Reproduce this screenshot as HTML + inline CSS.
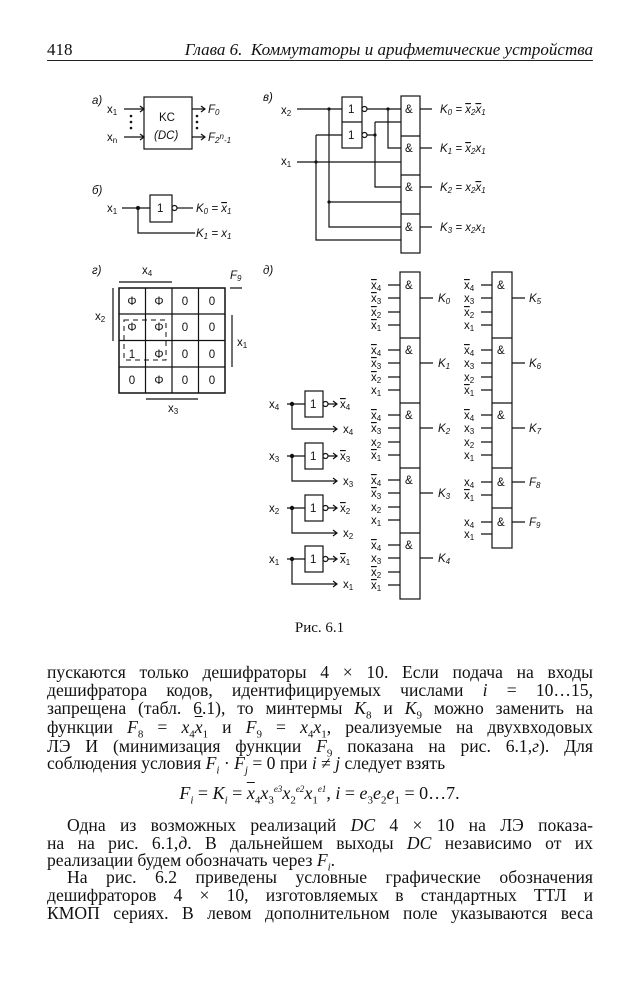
<!DOCTYPE html>
<html><head><meta charset="utf-8">
<style>
body{margin:0;background:#fff;}
#p{position:relative;width:639px;height:1000px;overflow:hidden;background:#fff;font-family:"Liberation Serif",serif;color:#111;}
.l{position:absolute;left:47px;width:546px;height:18px;line-height:18px;font-size:17.6px;text-align:justify;text-align-last:justify;white-space:nowrap;}
.n{text-align-last:left;}
.i{font-style:italic;}
sub,sup{line-height:0;font-size:11px;}
svg{position:absolute;left:0;top:0;}
svg text{font-family:"Liberation Sans",sans-serif;font-size:11.5px;fill:#111;}
.o{text-decoration:overline;}
.s{font-size:8px;}
</style></head><body><div id="p">
<div style="position:absolute;left:47px;top:40px;font-size:17px;">418</div>
<div style="position:absolute;right:46px;top:40px;font-size:17px;font-style:italic;">Глава 6.&nbsp; Коммутаторы и арифметические устройства</div>
<div style="position:absolute;left:47px;top:60px;width:546px;height:1px;background:#222;"></div>

<svg width="639" height="640" viewBox="0 0 639 640" stroke="#111" stroke-width="1.2" fill="none">
<!-- a) -->
<text x="92" y="104" stroke="none" font-style="italic">a)</text>
<rect x="144" y="97" width="48" height="52"/>
<text x="159" y="121" stroke="none" font-size="12">KC</text>
<text x="154" y="139" stroke="none" font-style="italic">(DC)</text>
<path d="M124 109H144M124 137H144M192 109H205M192 137H205"/>
<path d="M140 106l4 3-4 3M140 134l4 3-4 3M201 106l4 3-4 3M201 134l4 3-4 3"/>
<g fill="#111" stroke="none"><circle cx="131" cy="116" r="1.3"/><circle cx="131" cy="122" r="1.3"/><circle cx="131" cy="128" r="1.3"/><circle cx="197" cy="116" r="1.3"/><circle cx="197" cy="122" r="1.3"/><circle cx="197" cy="128" r="1.3"/></g>
<text x="107" y="113" stroke="none">x<tspan class="s" dy="2">1</tspan></text>
<text x="107" y="141" stroke="none">x<tspan class="s" dy="2">n</tspan></text>
<text x="208" y="113" stroke="none" font-style="italic">F<tspan class="s" dy="2">0</tspan></text>
<text x="208" y="141" stroke="none" font-style="italic">F<tspan class="s" dy="2">2</tspan><tspan class="s" dy="-4">n</tspan><tspan class="s" dy="4">-1</tspan></text>
<!-- b) -->
<text x="92" y="194" stroke="none" font-style="italic">б)</text>
<text x="107" y="212" stroke="none">x<tspan class="s" dy="2">1</tspan></text>
<path d="M122 208H150M138 208V233H195"/>
<circle cx="138" cy="208" r="1.5" fill="#111"/>
<rect x="150" y="195" width="22" height="27"/>
<text x="157" y="212" stroke="none">1</text>
<circle cx="174.5" cy="208" r="2.5" fill="#fff"/>
<path d="M177 208H193"/>
<text x="196" y="212" stroke="none" font-style="italic">K<tspan class="s" dy="2">0</tspan><tspan dy="-2"> = </tspan><tspan class="o">x</tspan><tspan class="s" dy="2">1</tspan></text>
<text x="196" y="237" stroke="none" font-style="italic">K<tspan class="s" dy="2">1</tspan><tspan dy="-2"> = x</tspan><tspan class="s" dy="2">1</tspan></text>
<!-- v) -->
<text x="263" y="101" stroke="none" font-style="italic">в)</text>
<text x="281" y="114" stroke="none">x<tspan class="s" dy="2">2</tspan></text>
<text x="281" y="165" stroke="none">x<tspan class="s" dy="2">1</tspan></text>
<rect x="342" y="97" width="20" height="51"/><path d="M342 122H362"/>
<text x="348" y="113" stroke="none">1</text><text x="348" y="139" stroke="none">1</text>
<circle cx="364.5" cy="109" r="2.5" fill="#fff"/><circle cx="364.5" cy="135" r="2.5" fill="#fff"/>
<rect x="401" y="96" width="19" height="157"/>
<path d="M401 136H420M401 175H420M401 214H420"/>
<path d="M297 109H342M367 109H401M388 109V148H401M367 135H375M375 122H401M375 122V187H401"/>
<path d="M297 162H401M316 135H342M316 135V240H401M329 109V227H401M329 202H401"/>
<g fill="#111" stroke="none"><circle cx="329" cy="109" r="1.6"/><circle cx="388" cy="109" r="1.6"/><circle cx="375" cy="135" r="1.6"/><circle cx="316" cy="162" r="1.6"/><circle cx="329" cy="202" r="1.6"/></g>
<g stroke="none" font-size="12"><text x="405" y="113">&amp;</text><text x="405" y="152">&amp;</text><text x="405" y="191">&amp;</text><text x="405" y="231">&amp;</text></g>
<path d="M420 109H432M420 148H432M420 187H432M420 227H432"/>
<g stroke="none" font-style="italic">
<text x="440" y="113">K<tspan class="s" dy="2">0</tspan><tspan dy="-2"> = </tspan><tspan class="o">x</tspan><tspan class="s" dy="2">2</tspan><tspan class="o" dy="-2">x</tspan><tspan class="s" dy="2">1</tspan></text>
<text x="440" y="152">K<tspan class="s" dy="2">1</tspan><tspan dy="-2"> = </tspan><tspan class="o">x</tspan><tspan class="s" dy="2">2</tspan><tspan dy="-2">x</tspan><tspan class="s" dy="2">1</tspan></text>
<text x="440" y="191">K<tspan class="s" dy="2">2</tspan><tspan dy="-2"> = x</tspan><tspan class="s" dy="2">2</tspan><tspan class="o" dy="-2">x</tspan><tspan class="s" dy="2">1</tspan></text>
<text x="440" y="231">K<tspan class="s" dy="2">3</tspan><tspan dy="-2"> = x</tspan><tspan class="s" dy="2">2</tspan><tspan dy="-2">x</tspan><tspan class="s" dy="2">1</tspan></text>
</g>
<!-- g) -->
<text x="92" y="274" stroke="none" font-style="italic">г)</text>
<rect x="119" y="288" width="106" height="105" stroke-width="1.5"/>
<path d="M145.5 288V393M172 288V393M198.5 288V393M119 314H225M119 340.5H225M119 367H225"/>
<g stroke="none" text-anchor="middle">
<text x="132" y="305">Φ</text><text x="159" y="305">Φ</text><text x="185" y="305">0</text><text x="212" y="305">0</text>
<text x="132" y="331">Φ</text><text x="159" y="331">Φ</text><text x="185" y="331">0</text><text x="212" y="331">0</text>
<text x="132" y="358">1</text><text x="159" y="358">Φ</text><text x="185" y="358">0</text><text x="212" y="358">0</text>
<text x="132" y="384">0</text><text x="159" y="384">Φ</text><text x="185" y="384">0</text><text x="212" y="384">0</text>
</g>
<rect x="124" y="320" width="42" height="40" stroke-dasharray="5 4" stroke-width="1"/>
<path d="M119 282H172M113 288V341M232 315V367M146 399H198M230 288H242"/>
<g stroke="none"><text x="142" y="274">x<tspan class="s" dy="2">4</tspan></text>
<text x="95" y="320">x<tspan class="s" dy="2">2</tspan></text>
<text x="237" y="346">x<tspan class="s" dy="2">1</tspan></text>
<text x="168" y="412">x<tspan class="s" dy="2">3</tspan></text>
<text x="230" y="279" font-style="italic">F<tspan class="s" dy="2">9</tspan></text></g>
<!-- d) -->
<text x="263" y="274" stroke="none" font-style="italic">д)</text>
<g id="inv">
<path d="M287 404H305M292 404V429H337M327 404H337M333 401l4 3-4 3M333 426l4 3-4 3"/>
<circle cx="292" cy="404" r="1.6" fill="#111"/>
<rect x="305" y="391" width="18" height="26"/>
<text x="310" y="408" stroke="none">1</text>
<circle cx="325.5" cy="404" r="2.5" fill="#fff"/>
</g>
<use href="#inv" y="52"/><use href="#inv" y="104"/><use href="#inv" y="155"/>
<g stroke="none">
<text x="269" y="408">x<tspan class="s" dy="2">4</tspan></text><text x="340" y="408"><tspan class="o">x</tspan><tspan class="s" dy="2">4</tspan></text><text x="343" y="433">x<tspan class="s" dy="2">4</tspan></text>
<text x="269" y="460">x<tspan class="s" dy="2">3</tspan></text><text x="340" y="460"><tspan class="o">x</tspan><tspan class="s" dy="2">3</tspan></text><text x="343" y="485">x<tspan class="s" dy="2">3</tspan></text>
<text x="269" y="512">x<tspan class="s" dy="2">2</tspan></text><text x="340" y="512"><tspan class="o">x</tspan><tspan class="s" dy="2">2</tspan></text><text x="343" y="537">x<tspan class="s" dy="2">2</tspan></text>
<text x="269" y="563">x<tspan class="s" dy="2">1</tspan></text><text x="340" y="563"><tspan class="o">x</tspan><tspan class="s" dy="2">1</tspan></text><text x="343" y="588">x<tspan class="s" dy="2">1</tspan></text>
</g>
<!-- column 1 -->
<rect x="400" y="272" width="20" height="327"/>
<path d="M400 338H420M400 403H420M400 468H420M400 533H420"/>
<path d="M388 285H400M388 298H400M388 312H400M388 325H400 M388 350H400M388 363H400M388 377H400M388 390H400 M388 415H400M388 428H400M388 442H400M388 455H400 M388 480H400M388 493H400M388 507H400M388 520H400 M388 545H400M388 558H400M388 572H400M388 585H400"/>
<path d="M420 298H433M420 363H433M420 428H433M420 493H433M420 558H433"/>
<g stroke="none" font-size="12"><text x="405" y="289">&amp;</text><text x="405" y="354">&amp;</text><text x="405" y="419">&amp;</text><text x="405" y="484">&amp;</text><text x="405" y="549">&amp;</text></g>
<g stroke="none">
<text x="371" y="289"><tspan class="o">x</tspan><tspan class="s" dy="2">4</tspan></text><text x="371" y="302"><tspan class="o">x</tspan><tspan class="s" dy="2">3</tspan></text><text x="371" y="316"><tspan class="o">x</tspan><tspan class="s" dy="2">2</tspan></text><text x="371" y="329"><tspan class="o">x</tspan><tspan class="s" dy="2">1</tspan></text>
<text x="371" y="354"><tspan class="o">x</tspan><tspan class="s" dy="2">4</tspan></text><text x="371" y="367"><tspan class="o">x</tspan><tspan class="s" dy="2">3</tspan></text><text x="371" y="381"><tspan class="o">x</tspan><tspan class="s" dy="2">2</tspan></text><text x="371" y="394">x<tspan class="s" dy="2">1</tspan></text>
<text x="371" y="419"><tspan class="o">x</tspan><tspan class="s" dy="2">4</tspan></text><text x="371" y="432"><tspan class="o">x</tspan><tspan class="s" dy="2">3</tspan></text><text x="371" y="446">x<tspan class="s" dy="2">2</tspan></text><text x="371" y="459"><tspan class="o">x</tspan><tspan class="s" dy="2">1</tspan></text>
<text x="371" y="484"><tspan class="o">x</tspan><tspan class="s" dy="2">4</tspan></text><text x="371" y="497"><tspan class="o">x</tspan><tspan class="s" dy="2">3</tspan></text><text x="371" y="511">x<tspan class="s" dy="2">2</tspan></text><text x="371" y="524">x<tspan class="s" dy="2">1</tspan></text>
<text x="371" y="549"><tspan class="o">x</tspan><tspan class="s" dy="2">4</tspan></text><text x="371" y="562">x<tspan class="s" dy="2">3</tspan></text><text x="371" y="576"><tspan class="o">x</tspan><tspan class="s" dy="2">2</tspan></text><text x="371" y="589"><tspan class="o">x</tspan><tspan class="s" dy="2">1</tspan></text>
</g>
<g stroke="none" font-style="italic">
<text x="438" y="302">K<tspan class="s" dy="2">0</tspan></text><text x="438" y="367">K<tspan class="s" dy="2">1</tspan></text><text x="438" y="432">K<tspan class="s" dy="2">2</tspan></text><text x="438" y="497">K<tspan class="s" dy="2">3</tspan></text><text x="438" y="562">K<tspan class="s" dy="2">4</tspan></text>
</g>
<!-- column 2 -->
<rect x="492" y="272" width="20" height="276"/>
<path d="M492 338H512M492 403H512M492 468H512M492 508H512"/>
<path d="M481 285H492M481 298H492M481 312H492M481 325H492 M481 350H492M481 363H492M481 377H492M481 390H492 M481 415H492M481 428H492M481 442H492M481 455H492 M481 482H492M481 495H492 M481 522H492M481 534H492"/>
<path d="M512 298H525M512 363H525M512 428H525M512 482H525M512 522H525"/>
<g stroke="none" font-size="12"><text x="497" y="289">&amp;</text><text x="497" y="354">&amp;</text><text x="497" y="419">&amp;</text><text x="497" y="486">&amp;</text><text x="497" y="526">&amp;</text></g>
<g stroke="none">
<text x="464" y="289"><tspan class="o">x</tspan><tspan class="s" dy="2">4</tspan></text><text x="464" y="302">x<tspan class="s" dy="2">3</tspan></text><text x="464" y="316"><tspan class="o">x</tspan><tspan class="s" dy="2">2</tspan></text><text x="464" y="329">x<tspan class="s" dy="2">1</tspan></text>
<text x="464" y="354"><tspan class="o">x</tspan><tspan class="s" dy="2">4</tspan></text><text x="464" y="367">x<tspan class="s" dy="2">3</tspan></text><text x="464" y="381">x<tspan class="s" dy="2">2</tspan></text><text x="464" y="394"><tspan class="o">x</tspan><tspan class="s" dy="2">1</tspan></text>
<text x="464" y="419"><tspan class="o">x</tspan><tspan class="s" dy="2">4</tspan></text><text x="464" y="432">x<tspan class="s" dy="2">3</tspan></text><text x="464" y="446">x<tspan class="s" dy="2">2</tspan></text><text x="464" y="459">x<tspan class="s" dy="2">1</tspan></text>
<text x="464" y="486">x<tspan class="s" dy="2">4</tspan></text><text x="464" y="499"><tspan class="o">x</tspan><tspan class="s" dy="2">1</tspan></text>
<text x="464" y="526">x<tspan class="s" dy="2">4</tspan></text><text x="464" y="538">x<tspan class="s" dy="2">1</tspan></text>
</g>
<g stroke="none" font-style="italic">
<text x="529" y="302">K<tspan class="s" dy="2">5</tspan></text><text x="529" y="367">K<tspan class="s" dy="2">6</tspan></text><text x="529" y="432">K<tspan class="s" dy="2">7</tspan></text><text x="529" y="486">F<tspan class="s" dy="2">8</tspan></text><text x="529" y="526">F<tspan class="s" dy="2">9</tspan></text>
</g>
</svg>

<div style="position:absolute;left:0;width:639px;top:620px;text-align:center;font-size:15px;">Рис. 6.1</div>

<div class="l" style="top:663px">пускаются только дешифраторы 4 × 10. Если подача на входы</div>
<div class="l" style="top:681px">дешифратора кодов, идентифицируемых числами <span class="i">i</span> = 10…15,</div>
<div class="l" style="top:699px">запрещена (табл. 6.1), то минтермы <span class="i">K</span><sub>8</sub> и <span class="i">K</span><sub>9</sub> можно заменить на</div>
<div class="l" style="top:718px">функции <span class="i">F</span><sub>8</sub> = <span class="i">x</span><sub>4</sub><span class="i" style="text-decoration:overline">x</span><sub>1</sub> и <span class="i">F</span><sub>9</sub> = <span class="i">x</span><sub>4</sub><span class="i">x</span><sub>1</sub>, реализуемые на двухвходовых</div>
<div class="l" style="top:737px">ЛЭ И (минимизация функции <span class="i">F</span><sub>9</sub> показана на рис. 6.1,<span class="i">г</span>). Для</div>
<div class="l n" style="top:754px">соблюдения условия <span class="i">F<sub>i</sub></span> · <span class="i">F<sub>j</sub></span> = 0 при <span class="i">i</span> ≠ <span class="i">j</span> следует взять</div>
<div style="position:absolute;left:0;width:639px;top:783px;text-align:center;font-size:18px;line-height:20px;"><span class="i">F<sub>i</sub></span> = <span class="i">K<sub>i</sub></span> = <span class="i" style="text-decoration:overline">x</span><sub>4</sub><span class="i">x</span><sub>3</sub><sup style="font-size:9px" class="i">e3</sup><span class="i">x</span><sub>2</sub><sup style="font-size:9px" class="i">e2</sup><span class="i">x</span><sub>1</sub><sup style="font-size:9px" class="i">e1</sup>, <span class="i">i</span> = <span class="i">e</span><sub>3</sub><span class="i">e</span><sub>2</sub><span class="i">e</span><sub>1</sub> = 0…7.</div>
<div class="l" style="top:816px;left:67px;width:526px">Одна из возможных реализаций <span class="i">DC</span> 4 × 10 на ЛЭ показа-</div>
<div class="l" style="top:834px">на на рис. 6.1,<span class="i">д</span>. В дальнейшем выходы <span class="i">DC</span> независимо от их</div>
<div class="l n" style="top:851px">реализации будем обозначать через <span class="i">F<sub>i</sub></span>.</div>
<div class="l" style="top:868px;left:67px;width:526px">На рис. 6.2 приведены условные графические обозначения</div>
<div class="l" style="top:886px">дешифраторов 4 × 10, изготовляемых в стандартных ТТЛ и</div>
<div class="l" style="top:904px">КМОП сериях. В левом дополнительном поле указываются веса</div>
</div></body></html>
